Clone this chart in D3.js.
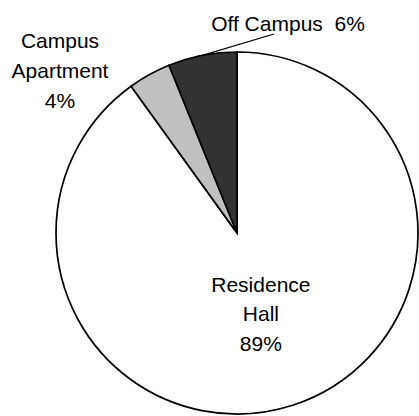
<!DOCTYPE html>
<html>
<head>
<meta charset="utf-8">
<script src="https://cdn.jsdelivr.net/npm/d3@7"></script>
<style>
html,body{margin:0;padding:0;background:#fff;}
svg{display:block;}
text{font-family:"Liberation Sans",Arial,sans-serif;font-size:21px;fill:#000;}
</style>
</head>
<body>
<svg id="chart" width="419" height="416"></svg>
<script>
// Data
const categories = ["Residence Hall", "Campus Apartment", "Off Campus"];
const values = [89.6, 3.8, 6.1];
const percentLabels = ["89%", "4%", "6%"];
const colors = ["#ffffff", "#c0c0c0", "#333333"];

const W = 419, H = 416;
const cx = 237, cy = 233, R = 181;

const svg = d3.select("#chart");
const g = svg.append("g").attr("transform", `translate(${cx},${cy})`);

const pie = d3.pie().sort(null).value(d => d.value).startAngle(0).endAngle(2 * Math.PI);
const data = categories.map((c, i) => ({ name: c, value: values[i], pct: percentLabels[i], color: colors[i] }));
const arcs = pie(data);

const arc = d3.arc().innerRadius(0).outerRadius(R);

g.selectAll("path.slice")
  .data(arcs)
  .enter().append("path")
  .attr("class", "slice")
  .attr("d", arc)
  .attr("fill", d => d.data.color)
  .attr("stroke", "#000")
  .attr("stroke-width", 1.7)
  .attr("stroke-linejoin", "miter");

// Residence Hall label inside
const rh = arcs[0];
const midA = (rh.startAngle + rh.endAngle) / 2 + 0.05;
const lr = 92;
const lx = lr * Math.sin(midA), ly = -lr * Math.cos(midA);
const rhLines = ["Residence", "Hall", rh.data.pct];
g.append("text")
  .attr("text-anchor", "middle")
  .selectAll("tspan").data(rhLines).enter().append("tspan")
  .attr("x", lx)
  .attr("y", (d, i) => ly - 30 + i * 29.5)
  .text(d => d);

// Campus Apartment label outside (upper left)
const ca = arcs[1];
const caLines = ["Campus", "Apartment", ca.data.pct];
svg.append("text")
  .attr("text-anchor", "middle")
  .selectAll("tspan").data(caLines).enter().append("tspan")
  .attr("x", 60)
  .attr("y", (d, i) => 48 + i * 30)
  .text(d => d);

// Off Campus label with leader line
const oc = arcs[2];
const ocMid = (oc.startAngle + oc.endAngle) / 2;
const px = R * Math.sin(ocMid), py = -R * Math.cos(ocMid);
g.append("line")
  .attr("x1", px).attr("y1", py)
  .attr("x2", 274 - cx).attr("y2", 34 - cy)
  .attr("stroke", "#000").attr("stroke-width", 1.3);
svg.append("text")
  .attr("x", 288).attr("y", 30.5)
  .attr("text-anchor", "middle")
  .style("white-space", "pre")
  .text(oc.data.name + "  " + oc.data.pct);
</script>
</body>
</html>
